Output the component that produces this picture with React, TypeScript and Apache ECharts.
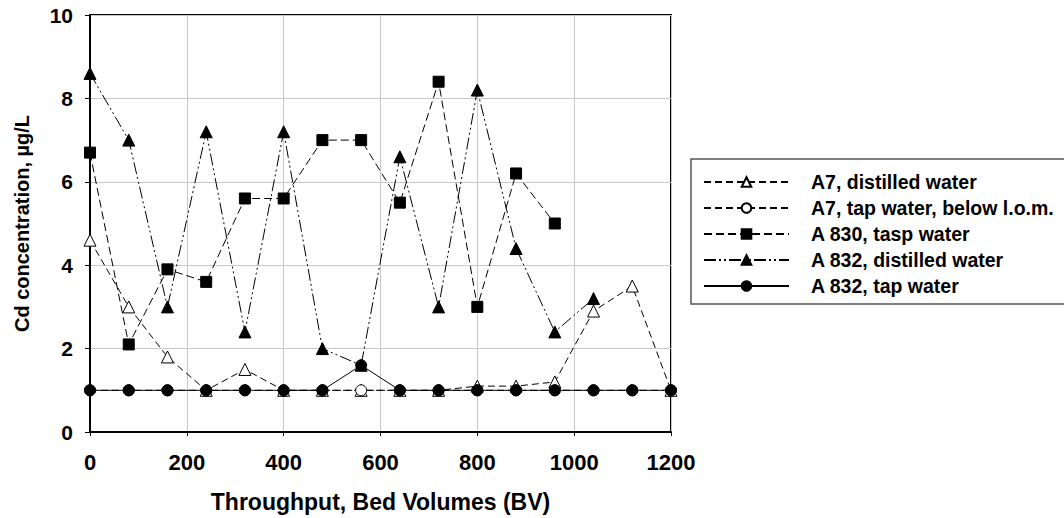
import React, { useEffect, useRef } from "react";
import * as echarts from "echarts";

const bedVolumes = [0, 80, 160, 240, 320, 400, 480, 560, 640, 720, 800, 880, 960, 1040, 1120, 1200];

const a7Distilled = [4.6, 3.0, 1.8, 1.0, 1.5, 1.0, 1.0, 1.0, 1.0, 1.0, 1.1, 1.1, 1.2, 2.9, 3.5, 1.0];
const a7Tap = [1, 1, 1, 1, 1, 1, 1, 1, 1, 1, 1, 1, 1, 1, 1, 1];
const a830Tap = [6.7, 2.1, 3.9, 3.6, 5.6, 5.6, 7.0, 7.0, 5.5, 8.4, 3.0, 6.2, 5.0];
const a832Distilled = [8.6, 7.0, 3.0, 7.2, 2.4, 7.2, 2.0, 1.6, 6.6, 3.0, 8.2, 4.4, 2.4, 3.2];
const a832Tap = [1, 1, 1, 1, 1, 1, 1, 1.6, 1, 1, 1, 1, 1, 1, 1, 1];

const xTicks = [0, 200, 400, 600, 800, 1000, 1200];
const yTicks = [0, 2, 4, 6, 8, 10];

const seriesNames = [
  "A7, distilled water",
  "A7, tap water, below l.o.m.",
  "A 830, tasp water",
  "A 832, distilled water",
  "A 832, tap water",
];

const pairs = (vals: number[]) => vals.map((v, i) => [bedVolumes[i], v]);

const FONT = "'Liberation Sans', Arial, sans-serif";

export default function App() {
  const ref = useRef<HTMLDivElement>(null);
  useEffect(() => {
    if (!ref.current) return;
    const chart = echarts.init(ref.current, undefined, { renderer: "svg" });
    const dash = [7, 4];
    const mk = (
      name: string,
      data: number[],
      symbol: string,
      size: number,
      fill: string,
      lineType: any
    ) => ({
      name,
      type: "line",
      data: pairs(data),
      symbol,
      symbolSize: size,
      showAllSymbol: true,
      itemStyle: { color: fill, borderColor: "#000", borderWidth: 1 },
      lineStyle: { color: "#000", width: 1, type: lineType },
    });
    chart.setOption({
      animation: false,
      backgroundColor: "#fff",
      textStyle: { fontFamily: FONT },
      grid: {
        left: 90,
        right: 393,
        top: 15,
        bottom: 86,
        show: true,
        borderColor: "#000",
        borderWidth: 2,
        containLabel: false,
      },
      graphic: [
        {
          type: "rect",
          shape: { x: 691, y: 159, width: 400, height: 145 },
          style: { fill: "none", stroke: "#555", lineWidth: 1.5 },
          z: 1,
        },
      ],
      legend: {
        orient: "vertical",
        left: 703,
        top: 172,
        padding: 0,
        itemWidth: 85,
        itemHeight: 12,
        itemGap: 6,
        data: seriesNames,
        textStyle: {
          fontFamily: FONT,
          fontWeight: "bold",
          fontSize: 19.5,
          color: "#000",
          padding: [0, 0, 0, 17],
        },
      },
      xAxis: {
        type: "value",
        min: 0,
        max: 1200,
        interval: 200,
        name: "Throughput, Bed Volumes (BV)",
        nameLocation: "middle",
        nameGap: 58,
        nameTextStyle: { fontFamily: FONT, fontWeight: "bold", fontSize: 23, color: "#000" },
        axisLine: { show: true, lineStyle: { color: "#000", width: 2 } },
        axisTick: { show: true, inside: false, length: 4, lineStyle: { color: "#000", width: 1 } },
        axisLabel: {
          fontFamily: FONT,
          fontWeight: "bold",
          fontSize: 22,
          color: "#000",
          margin: 19,
          formatter: (v: number) => (xTicks.includes(v) ? String(v) : ""),
        },
        splitLine: { show: true, lineStyle: { color: "#c8c8c8", width: 1 } },
      },
      yAxis: {
        type: "value",
        min: 0,
        max: 10,
        interval: 2,
        name: "Cd concentration, µg/L",
        nameLocation: "middle",
        nameGap: 58,
        nameRotate: 90,
        nameTextStyle: { fontFamily: FONT, fontWeight: "bold", fontSize: 20, color: "#000" },
        axisLine: { show: true, lineStyle: { color: "#000", width: 2 } },
        axisTick: { show: true, inside: false, length: 5, lineStyle: { color: "#000", width: 1 } },
        axisLabel: {
          fontFamily: FONT,
          fontWeight: "bold",
          fontSize: 21,
          color: "#000",
          margin: 17,
          formatter: (v: number) => (yTicks.includes(v) ? String(v) : ""),
        },
        splitLine: { show: true, lineStyle: { color: "#c8c8c8", width: 1 } },
      },
      series: [
        mk(seriesNames[0], a7Distilled, "triangle", 12, "#fff", dash),
        mk(seriesNames[1], a7Tap, "circle", 11, "#fff", dash),
        mk(seriesNames[2], a830Tap, "rect", 11, "#000", [8, 4]),
        mk(seriesNames[3], a832Distilled, "triangle", 12, "#000", [12, 3, 2, 3, 2, 3]),
        mk(seriesNames[4], a832Tap, "circle", 11, "#000", "solid"),
      ],
    });
    return () => chart.dispose();
  }, []);
  return (
    <div
      ref={ref}
      style={{ position: "fixed", left: 0, top: 0, width: 1064, height: 518, background: "#fff" }}
    />
  );
}
